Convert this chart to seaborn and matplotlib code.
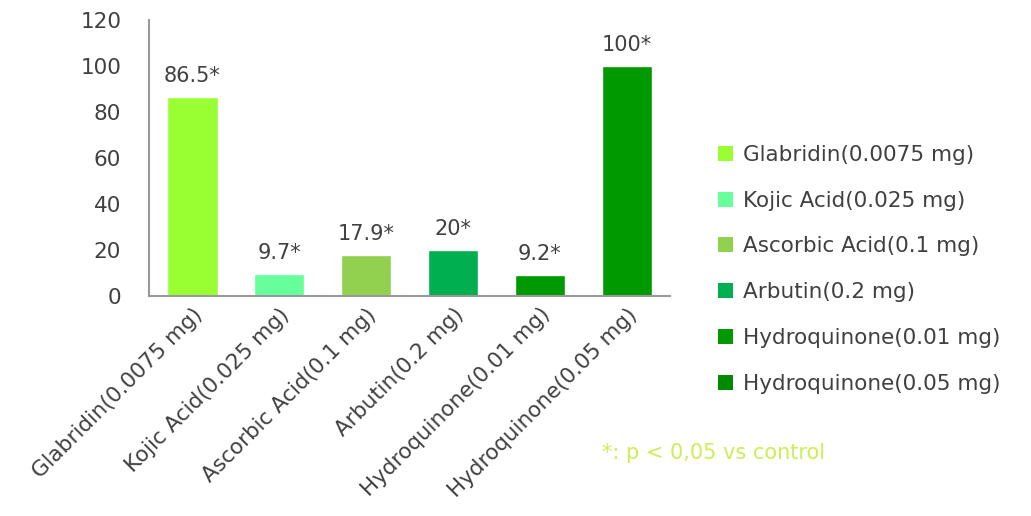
import matplotlib
matplotlib.use("Agg")
import matplotlib.pyplot as plt
import seaborn as sns
import pandas as pd
from matplotlib.patches import Patch

categories = ["Glabridin(0.0075 mg)", "Kojic Acid(0.025 mg)", "Ascorbic Acid(0.1 mg)",
              "Arbutin(0.2 mg)", "Hydroquinone(0.01 mg)", "Hydroquinone(0.05 mg)"]
values = [86.5, 9.7, 17.9, 20, 9.2, 100]
value_labels = ["86.5*", "9.7*", "17.9*", "20*", "9.2*", "100*"]
colors = ["#99FF33", "#66FF99", "#92D050", "#00B050", "#009900", "#009900"]
legend_colors = ["#99FF33", "#66FF99", "#92D050", "#00B050", "#009900", "#008A00"]
yticks = [0, 20, 40, 60, 80, 100, 120]
footnote = "*: p < 0,05 vs control"

sns.set_theme(style="white")
plt.rcParams['font.family'] = ['DejaVu Sans']

df = pd.DataFrame({"cat": categories, "val": values})

fig = plt.figure(figsize=(10.31, 5.16), dpi=100)
ax = fig.add_axes([0.1445, 0.4264, 0.5055, 0.5346])
sns.barplot(data=df, x="cat", y="val", hue="cat", palette=colors, dodge=False,
            width=0.58, legend=False, ax=ax, saturation=1)

for cont, lab in zip(ax.containers, value_labels):
    ax.bar_label(cont, labels=[lab], padding=8, fontsize=15, color="#404040")

ax.set_ylim(0, 120)
ax.set_yticks(yticks)
ax.set_yticklabels([str(t) for t in yticks], fontsize=15.5, color="#404040")
ax.tick_params(axis="y", length=0, pad=20)
ax.tick_params(axis="x", length=0, pad=6)
ax.set_xticks(range(len(categories)))
ax.set_xticklabels(categories, rotation=45, ha="right", rotation_mode="anchor",
                   fontsize=15.5, color="#404040")
ax.set_xlim(-0.5, 5.5)
ax.set_xlabel("")
ax.set_ylabel("")
for s in ["top", "right"]:
    ax.spines[s].set_visible(False)
for s in ["left", "bottom"]:
    ax.spines[s].set_color("#999999")
    ax.spines[s].set_linewidth(1.5)

handles = [Patch(facecolor=c, edgecolor="none") for c in legend_colors]
fig.legend(handles, categories, loc="upper left", bbox_to_anchor=(0.678, 0.757),
           frameon=False, fontsize=15.5, labelcolor="#404040", handlelength=0.7,
           handleheight=0.7, handletextpad=0.45, labelspacing=1.2)

fig.text(0.584, 0.11, footnote, fontsize=15, color="#CCEE55",
         family=["DejaVu Sans"])

fig.savefig("out.png", dpi=100)
